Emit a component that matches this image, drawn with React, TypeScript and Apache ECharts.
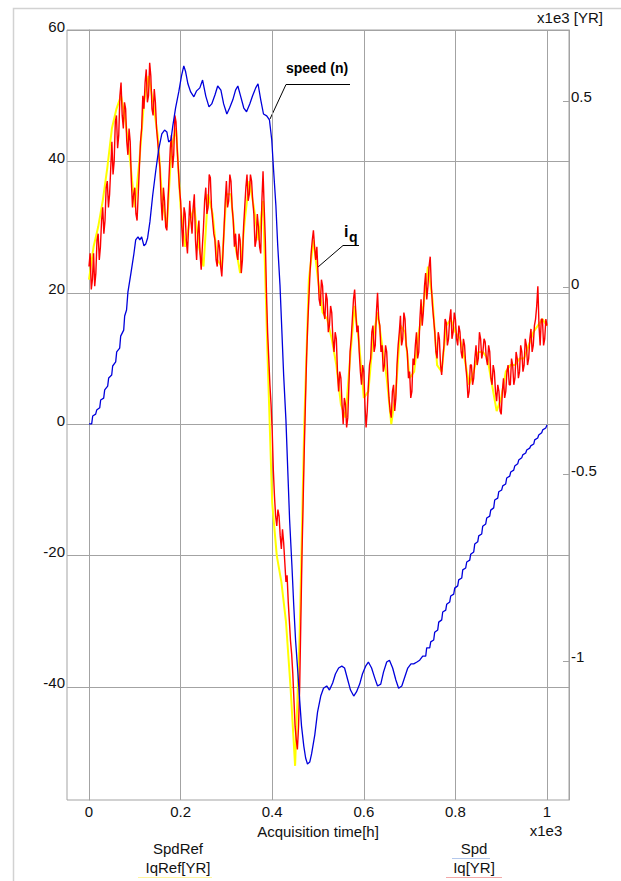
import React, { useEffect, useRef } from "react";
import * as echarts from "echarts";

// Sampling steps of the Iq / IqRef recordings (x axis unit: 1e3 h)
const IQ_STEP = 0.0025;
const IQREF_STEP = 0.01;

// Iq [YR] (red), left axis
const iqValues = [
  24, 26, 20.5, 22, 26, 21, 23, 28, 29, 25, 27, 31, 33, 29, 31, 36, 37, 33, 35, 39,
  43, 38, 40, 46, 47, 42, 44, 50, 52, 47, 45, 49, 48, 43, 41, 45, 43, 37, 33, 35,
  36, 32, 31, 35, 39, 43, 45, 50, 48, 52, 54, 49, 50, 55, 53, 48, 47, 51, 49, 45,
  43, 41, 39, 34, 31, 36, 34, 30, 29.5, 34, 38, 42, 44, 39, 41, 47, 46, 42, 39, 36,
  34, 30, 27, 33, 32, 28, 26, 30, 34, 31, 29, 33, 35, 28, 25, 29, 31, 26, 23.5, 27,
  30, 34, 36, 32, 33, 38, 37.5, 33, 31, 29, 28, 25, 24, 28, 27, 24, 22.5, 26, 30, 34,
  37, 33, 34, 38, 37, 33, 31, 27, 29, 26, 25, 29, 28, 23, 25, 30, 33, 36, 38, 34,
  35, 38, 37, 34, 32, 27, 28, 32, 30, 27, 26, 34, 38.5, 33, 28, 20, 14, 10, 6, 3,
  -1, -7, -11, -14, -15.5, -13, -14, -17, -19, -16, -18, -21, -24, -23, -27, -30, -33, -35, -38, -42,
  -46, -48, -49.5, -46, -40, -30, -20, -12, -4, 3, 10, 15, 19, 23, 26, 28, 29.5, 27, 25, 27,
  23, 19, 18, 22, 21, 17, 16, 20, 19, 14, 15, 18, 17, 13, 11, 14, 13, 8, 5, 8,
  7, 3, 0, 4, 3, -0.5, 1, 6, 11, 13, 16, 19, 20.5, 17, 14, 15, 11, 8, 6, 9,
  8, 3, -0.5, 2, 6, 9, 10, 14, 15, 11, 12, 17, 20, 16, 15, 11, 12, 8, 9, 12,
  11, 7, 4, 2, 1, 5, 6, 2, 4, 9, 12, 14, 16.5, 12, 13, 17, 16, 12, 11, 7,
  8, 4, 5, 10, 9, 12, 14, 10, 11, 16, 19, 15, 17, 21, 23, 19, 21, 24, 25.5, 21,
  18, 16, 14, 11, 10, 14, 13, 9, 7.5, 10, 12, 16, 15.5, 12, 13, 16, 17.5, 13, 14, 17,
  16, 13, 12, 15, 14, 11, 10, 13, 12, 9, 7, 4, 5, 9, 9, 6, 7, 10, 12, 9,
  10, 14, 13, 10, 11, 13, 12.5, 10, 9, 12, 11, 7, 6, 9, 8, 5, 3.5, 6, 5, 2,
  1.5, 5, 7, 4, 5, 8, 9, 6, 6, 10, 9, 6, 7, 11, 10, 7, 8, 12, 11, 8,
  9, 13, 12, 9, 10, 13, 14.5, 11, 12, 15, 16, 18, 21, 15, 12, 16, 16, 12, 13, 16,
  15,
];

// IqRef [YR] (yellow), left axis
const iqRefValues = [
  22, 27, 30, 34, 39, 45, 48, 50, 46, 40,
  33, 40, 49, 53, 49, 44, 34, 30, 42, 45,
  33, 27, 31, 33, 27, 24, 35, 32, 25, 24,
  35, 35, 27, 23, 31, 37, 33, 28, 34, 10,
  -12, -20, -24, -30, -40, -52, -32, 0, 22, 28,
  22, 17, 16, 13, 9, 3, 1, 10, 18, 12,
  4, 5, 13, 17, 12, 7, 0, 5, 15, 14,
  7, 8, 14, 18, 24, 19, 9, 8, 15, 16,
  14, 13, 10, 6, 8, 11, 11, 10, 6, 2,
  4, 8, 9, 9, 10, 10, 12, 14, 15, 16,
  15,
];

// Spd (blue), right axis [x1e3], as [time, value]
const spdPoints = [
  [0, -0.365], [0.0059, -0.365], [0.0081, -0.344], [0.0146, -0.339], [0.0168, -0.328],
  [0.0234, -0.322], [0.0255, -0.301], [0.0321, -0.296], [0.0343, -0.274], [0.0408, -0.264],
  [0.043, -0.242], [0.0496, -0.234], [0.0517, -0.21], [0.0583, -0.199], [0.0605, -0.172],
  [0.067, -0.162], [0.0692, -0.13], [0.0758, -0.114], [0.0779, -0.076], [0.082, -0.06],
  [0.085, -0.012], [0.091, 0.034],
  [0.098, 0.09], [0.102, 0.128], [0.107, 0.136], [0.111, 0.128], [0.115, 0.136],
  [0.12, 0.112], [0.124, 0.117], [0.128, 0.133], [0.133, 0.176], [0.139, 0.246],
  [0.146, 0.315], [0.152, 0.369], [0.159, 0.412], [0.165, 0.422], [0.17, 0.417],
  [0.174, 0.39], [0.179, 0.396], [0.183, 0.433], [0.189, 0.481], [0.196, 0.524],
  [0.202, 0.567], [0.207, 0.594], [0.211, 0.578], [0.216, 0.546], [0.222, 0.524],
  [0.229, 0.511], [0.235, 0.527], [0.242, 0.535], [0.248, 0.556], [0.255, 0.513],
  [0.262, 0.484], [0.268, 0.492], [0.275, 0.516], [0.281, 0.54], [0.288, 0.529],
  [0.294, 0.492], [0.301, 0.465], [0.307, 0.481], [0.314, 0.503], [0.32, 0.529],
  [0.325, 0.54], [0.331, 0.513], [0.338, 0.481], [0.344, 0.471], [0.351, 0.492],
  [0.357, 0.513], [0.364, 0.535], [0.369, 0.546], [0.375, 0.503], [0.381, 0.465],
  [0.388, 0.46], [0.394, 0.449], [0.399, 0.396], [0.403, 0.315], [0.408, 0.221],
  [0.412, 0.114], [0.417, 0.007], [0.421, -0.113], [0.425, -0.234], [0.43, -0.355],
  [0.434, -0.489], [0.438, -0.622], [0.443, -0.743], [0.447, -0.85], [0.451, -0.944],
  [0.456, -1.03], [0.46, -1.105], [0.464, -1.174], [0.469, -1.228], [0.473, -1.26],
  [0.477, -1.276], [0.482, -1.271], [0.486, -1.249], [0.493, -1.198], [0.499, -1.137],
  [0.506, -1.094], [0.512, -1.073], [0.519, -1.067], [0.525, -1.078], [0.532, -1.059],
  [0.538, -1.035], [0.545, -1.019], [0.552, -1.014], [0.558, -1.019], [0.565, -1.051],
  [0.571, -1.078], [0.578, -1.094], [0.584, -1.083], [0.591, -1.062], [0.597, -1.035],
  [0.604, -1.014], [0.61, -1.003], [0.617, -1.019], [0.624, -1.046], [0.63, -1.067],
  [0.637, -1.062], [0.643, -1.03], [0.65, -1.003], [0.656, -0.998], [0.663, -1.019],
  [0.67, -1.051], [0.676, -1.073], [0.683, -1.067], [0.69, -1.041], [0.696, -1.019],
  [0.703, -1.008], [0.709, -1.008], [0.716, -1.003], [0.722, -0.998], [0.7286, -0.987],
  [0.7352, -0.987], [0.7373, -0.965], [0.7439, -0.965], [0.7461, -0.949], [0.7526, -0.944],
  [0.7548, -0.923], [0.7614, -0.917], [0.7636, -0.896], [0.7701, -0.89], [0.7723, -0.869],
  [0.7789, -0.864], [0.781, -0.848], [0.7876, -0.842], [0.7898, -0.826], [0.7963, -0.821],
  [0.7985, -0.805], [0.805, -0.799], [0.8072, -0.783], [0.8138, -0.778], [0.816, -0.756],
  [0.8225, -0.751], [0.8247, -0.735], [0.8313, -0.73], [0.8334, -0.714], [0.84, -0.708],
  [0.8422, -0.687], [0.8487, -0.681], [0.8509, -0.665], [0.8574, -0.66], [0.8596, -0.639],
  [0.8662, -0.633], [0.8684, -0.617], [0.8749, -0.612], [0.8771, -0.596], [0.8836, -0.59],
  [0.8858, -0.569], [0.8924, -0.564], [0.8946, -0.547], [0.9011, -0.542], [0.9033, -0.531],
  [0.9098, -0.526], [0.912, -0.51], [0.9186, -0.505], [0.9208, -0.494], [0.9273, -0.489],
  [0.9295, -0.478], [0.936, -0.472], [0.9382, -0.462], [0.9448, -0.456], [0.947, -0.448],
  [0.9535, -0.443], [0.9557, -0.435], [0.9622, -0.43], [0.9644, -0.424], [0.971, -0.419],
  [0.9731, -0.408], [0.9797, -0.403], [0.9819, -0.395], [0.9884, -0.389], [0.9906, -0.381],
  [0.9972, -0.376], [1.0, -0.368],
];

const xTicks = [0, 0.2, 0.4, 0.6, 0.8, 1];
const leftTicks = [-40, -20, 0, 20, 40, 60];
const rightTicks = [-1, -0.5, 0, 0.5];

const FONT = "'Liberation Sans', Arial, sans-serif";
const GRID_COLOR = "#a3a3a3";
const TEXT_COLOR = "#111";

export default function App() {
  const ref = useRef<HTMLDivElement>(null);

  useEffect(() => {
    if (!ref.current) return;
    const chart = echarts.init(ref.current, undefined, { renderer: "svg" });

    const iqData = iqValues.map((v, i) => [i * IQ_STEP, v]);
    const iqRefData = iqRefValues.map((v, i) => [i * IQREF_STEP, v]);

    const txt = (x: number, y: number, text: string, extra: any = {}) => ({
      type: "text",
      x,
      y,
      silent: true,
      style: {
        text,
        fontFamily: FONT,
        fontSize: 15,
        fill: TEXT_COLOR,
        textAlign: "center",
        textVerticalAlign: "middle",
        verticalAlign: "middle",
        ...extra,
      },
    });

    chart.setOption({
      animation: false,
      backgroundColor: "#fff",
      grid: {
        left: 67,
        top: 30,
        right: 52,
        bottom: 81,
        show: true,
        borderColor: GRID_COLOR,
        borderWidth: 1,
        backgroundColor: "transparent",
      },
      xAxis: {
        type: "value",
        min: -0.048,
        max: 1.048,
        position: "bottom",
        name: "Acquisition time[h]",
        nameLocation: "middle",
        nameGap: 24,
        nameTextStyle: { fontFamily: FONT, fontSize: 15, color: TEXT_COLOR },
        axisLine: { show: true, lineStyle: { color: GRID_COLOR } },
        axisTick: { show: false, customValues: xTicks },
        axisLabel: {
          customValues: xTicks,
          fontFamily: FONT,
          fontSize: 15,
          color: TEXT_COLOR,
          margin: 4,
        },
        splitLine: { show: true, lineStyle: { color: GRID_COLOR, width: 1 } },
      },
      yAxis: [
        {
          type: "value",
          min: -57.2,
          max: 60,
          position: "left",
          axisLine: { show: true, lineStyle: { color: GRID_COLOR } },
          axisTick: { show: false, customValues: leftTicks },
          axisLabel: {
            customValues: leftTicks,
            fontFamily: FONT,
            fontSize: 15,
            color: TEXT_COLOR,
            margin: 2,
            verticalAlign: "bottom",
            lineHeight: 8,
          },
          splitLine: { show: true, lineStyle: { color: GRID_COLOR, width: 1 } },
        },
        {
          type: "value",
          min: -1.3725,
          max: 0.69,
          position: "right",
          axisLine: { show: true, lineStyle: { color: GRID_COLOR } },
          axisTick: {
            show: true,
            inside: true,
            length: 6,
            customValues: rightTicks,
            lineStyle: { color: GRID_COLOR },
          },
          axisLabel: {
            customValues: rightTicks,
            fontFamily: FONT,
            fontSize: 15,
            color: TEXT_COLOR,
            margin: 2,
            verticalAlign: "bottom",
            lineHeight: 8,
          },
          splitLine: { show: false },
        },
      ],
      series: [
        {
          name: "IqRef[YR]",
          type: "line",
          yAxisIndex: 0,
          data: iqRefData,
          showSymbol: false,
          symbol: "none",
          lineStyle: { color: "#ffff00", width: 2 },
          z: 2,
        },
        {
          name: "Iq[YR]",
          type: "line",
          yAxisIndex: 0,
          data: iqData,
          showSymbol: false,
          symbol: "none",
          lineStyle: { color: "#ff0000", width: 1.4 },
          z: 3,
        },
        {
          name: "Spd",
          type: "line",
          yAxisIndex: 1,
          data: spdPoints,
          showSymbol: false,
          symbol: "none",
          lineStyle: { color: "#0000dc", width: 1.3 },
          z: 4,
        },
      ],
      graphic: [
        {
          type: "rect",
          silent: true,
          z: -1,
          shape: { x: 13.5, y: 8.5, width: 640, height: 900 },
          style: { fill: "none", stroke: "#d2d2d2", lineWidth: 1.5 },
        },
        txt(570, 17, "x1e3 [YR]"),
        txt(546, 830, "x1e3"),
        txt(178, 848, "SpdRef"),
        txt(178, 867, "IqRef[YR]"),
        txt(474, 848, "Spd"),
        txt(474, 867, "Iq[YR]"),
        {
          type: "line",
          silent: true,
          shape: { x1: 452, y1: 858.5, x2: 490, y2: 858.5 },
          style: { stroke: "#b4c8ec", lineWidth: 1.2 },
        },
        {
          type: "line",
          silent: true,
          shape: { x1: 446, y1: 877.5, x2: 502, y2: 877.5 },
          style: { stroke: "#f2a8a8", lineWidth: 1.2 },
        },
        {
          type: "line",
          silent: true,
          shape: { x1: 138, y1: 877.5, x2: 212, y2: 877.5 },
          style: { stroke: "#fff4a0", lineWidth: 1.2 },
        },
        txt(317, 68, "speed (n)", { fontWeight: "bold", fill: "#000", fontSize: 14 }),
        {
          type: "polyline",
          silent: true,
          shape: { points: [[350, 84.5], [286, 84.5], [270, 119]] },
          style: { stroke: "#000", lineWidth: 1, fill: "none" },
        },
        txt(344, 231, "i", { fontWeight: "bold", fill: "#000", fontSize: 16, textAlign: "left" }),
        txt(349, 237, "q", { fontWeight: "bold", fill: "#000", fontSize: 14, textAlign: "left" }),
        {
          type: "polyline",
          silent: true,
          shape: { points: [[359, 245.5], [343, 245.5], [318, 267]] },
          style: { stroke: "#000", lineWidth: 1, fill: "none" },
        },
      ],
    });

    return () => chart.dispose();
  }, []);

  return (
    <div
      ref={ref}
      style={{ position: "fixed", left: 0, top: 0, width: 621, height: 881, background: "#fff" }}
    />
  );
}
